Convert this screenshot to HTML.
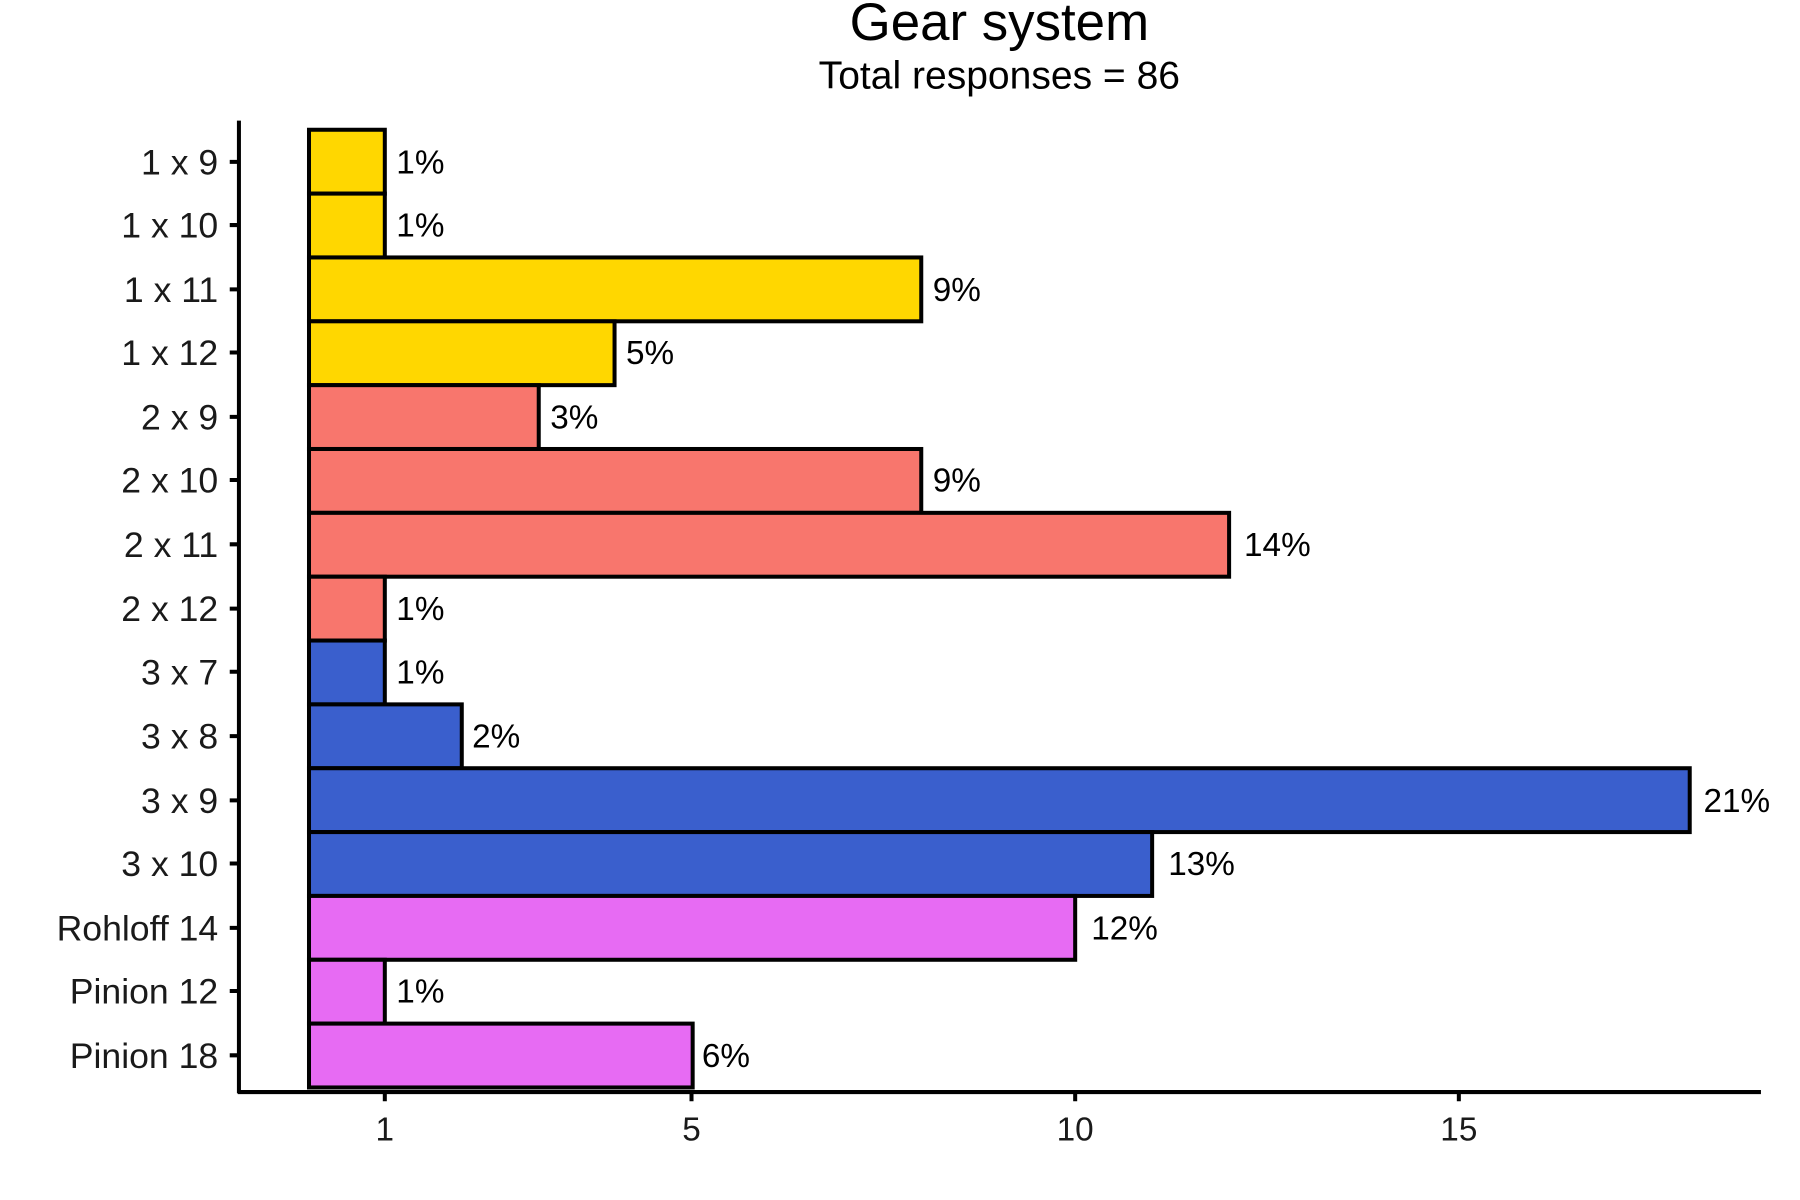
<!DOCTYPE html>
<html><head><style>html,body{margin:0;padding:0;background:#fff}svg{display:block}</style></head>
<body>
<svg width="1800" height="1200" viewBox="0 0 1567 1045" preserveAspectRatio="none" xmlns="http://www.w3.org/2000/svg" font-family="Liberation Sans, Arial, sans-serif">
<rect width="1567" height="1045" fill="#fff"/>
<text x="870" y="35" font-size="46" text-anchor="middle">Gear system</text>
<text x="870" y="77" font-size="34" text-anchor="middle">Total responses = 86</text>
<g stroke="#000" stroke-width="3.5">
<rect x="269" y="113" width="66" height="55.6" fill="#FFD700"/>
<rect x="269" y="168.6" width="66" height="55.6" fill="#FFD700"/>
<rect x="269" y="224.2" width="533" height="55.6" fill="#FFD700"/>
<rect x="269" y="279.8" width="266" height="55.6" fill="#FFD700"/>
<rect x="269" y="335.4" width="200" height="55.6" fill="#F8766D"/>
<rect x="269" y="391" width="533" height="55.6" fill="#F8766D"/>
<rect x="269" y="446.6" width="801" height="55.6" fill="#F8766D"/>
<rect x="269" y="502.2" width="66" height="55.6" fill="#F8766D"/>
<rect x="269" y="557.8" width="66" height="55.6" fill="#3A5FCD"/>
<rect x="269" y="613.4" width="133" height="55.6" fill="#3A5FCD"/>
<rect x="269" y="669" width="1202" height="55.6" fill="#3A5FCD"/>
<rect x="269" y="724.6" width="734" height="55.6" fill="#3A5FCD"/>
<rect x="269" y="780.2" width="667" height="55.6" fill="#E76BF3"/>
<rect x="269" y="835.8" width="66" height="55.6" fill="#E76BF3"/>
<rect x="269" y="891.4" width="334" height="55.6" fill="#E76BF3"/>
</g>
<g font-size="29">
<text x="345" y="151">1%</text>
<text x="345" y="206">1%</text>
<text x="812" y="262">9%</text>
<text x="545" y="317">5%</text>
<text x="479" y="373">3%</text>
<text x="812" y="428">9%</text>
<text x="1083" y="484">14%</text>
<text x="345" y="540">1%</text>
<text x="345" y="595">1%</text>
<text x="411" y="651">2%</text>
<text x="1483" y="707">21%</text>
<text x="1017" y="762">13%</text>
<text x="950" y="818">12%</text>
<text x="345" y="873">1%</text>
<text x="611" y="929">6%</text>
</g>
<g stroke="#000" stroke-width="3.5" fill="none">
<path d="M208 105V952M207 951H1533"/>
<path d="M200 141H208M200 196H208M200 252H208M200 307H208M200 363H208M200 418H208M200 474H208M200 530H208M200 585H208M200 641H208M200 697H208M200 752H208M200 808H208M200 863H208M200 919H208"/>
<path d="M335 951V959M602 951V959M936 951V959M1270 951V959"/>
</g>
<g font-size="31" text-anchor="end" fill="#1a1a1a">
<text x="190" y="152">1 x 9</text>
<text x="190" y="207">1 x 10</text>
<text x="190" y="263">1 x 11</text>
<text x="190" y="318">1 x 12</text>
<text x="190" y="374">2 x 9</text>
<text x="190" y="429">2 x 10</text>
<text x="190" y="485">2 x 11</text>
<text x="190" y="541">2 x 12</text>
<text x="190" y="596">3 x 7</text>
<text x="190" y="652">3 x 8</text>
<text x="190" y="708">3 x 9</text>
<text x="190" y="763">3 x 10</text>
<text x="190" y="819">Rohloff 14</text>
<text x="190" y="874">Pinion 12</text>
<text x="190" y="930">Pinion 18</text>
</g>
<g font-size="29" text-anchor="middle" fill="#1a1a1a">
<text x="335" y="993">1</text>
<text x="602" y="993">5</text>
<text x="936" y="993">10</text>
<text x="1270" y="993">15</text>
</g>
</svg>
</body></html>
